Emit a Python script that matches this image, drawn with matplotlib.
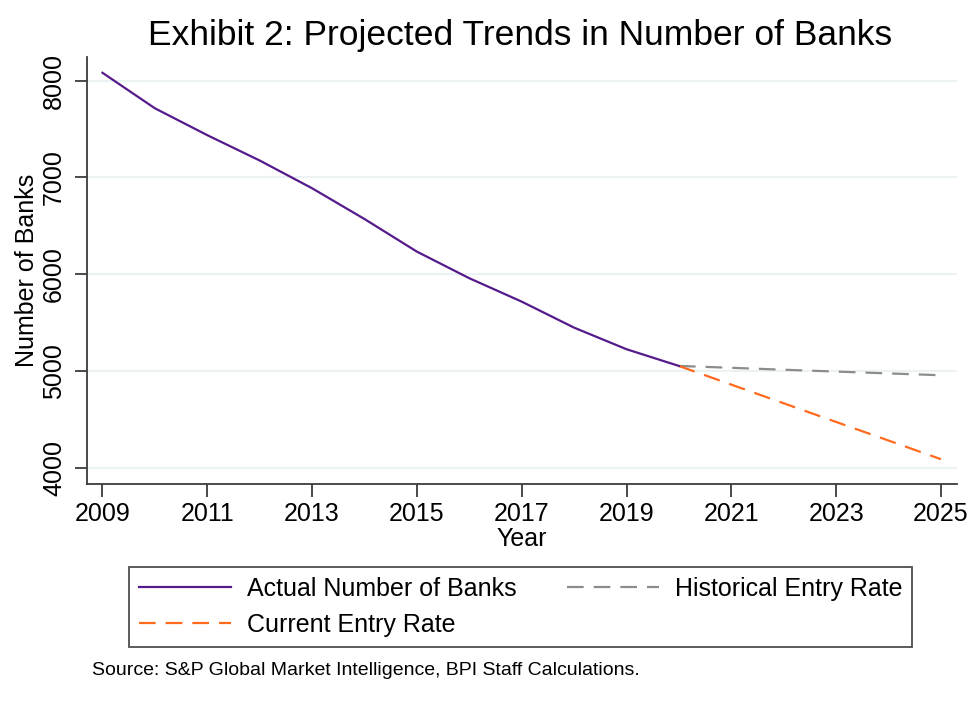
import matplotlib
matplotlib.use("Agg")
import matplotlib.pyplot as plt

plt.rcParams['font.family'] = ['Liberation Sans', 'DejaVu Sans']

years_actual = [2009, 2010, 2011, 2012, 2013, 2014, 2015, 2016, 2017, 2018, 2019, 2020]
banks_actual = [8082, 7715, 7437, 7175, 6888, 6570, 6233, 5958, 5716, 5447, 5224, 5051]

years_proj = [2020, 2021, 2022, 2023, 2024, 2025]
historical_rate = [5051, 5032, 5012, 4993, 4974, 4955]
current_rate = [5051, 4858, 4665, 4472, 4280, 4087]

xticks = [2009, 2011, 2013, 2015, 2017, 2019, 2021, 2023, 2025]
yticks = [4000, 5000, 6000, 7000, 8000]

purple = '#551a8b'
orange = '#ff6a1f'
gray = '#8c8c8c'
axcol = '#3c3c3c'

fig = plt.figure(figsize=(9.79, 7.01), dpi=100)
ax = fig.add_axes([0.0886, 0.3096, 0.8886, 0.6095])

l1, = ax.plot(years_actual, banks_actual, color=purple, lw=1.6,
              label='Actual Number of Banks', zorder=3)
l2, = ax.plot(years_proj, historical_rate, color=gray, lw=1.6,
              dashes=(7.5, 4.5), label='Historical Entry Rate', zorder=2)
l3, = ax.plot(years_proj, current_rate, color=orange, lw=1.6,
              dashes=(7.5, 4.5), label='Current Entry Rate', zorder=2)

ax.set_xlim(2008.70, 2025.30)
ax.set_ylim(3831, 8248)
ax.set_xticks(xticks)
ax.set_yticks(yticks)
ax.set_yticklabels([str(v) for v in yticks], rotation=90, va='center')
ax.grid(axis='y', color='#eaf2f3', lw=1.5, zorder=0)
ax.set_axisbelow(True)

for s in ['top', 'right']:
    ax.spines[s].set_visible(False)
for s in ['left', 'bottom']:
    ax.spines[s].set_color(axcol)
    ax.spines[s].set_linewidth(1.3)
ax.tick_params(axis='both', colors=axcol, labelcolor='black', length=9,
               width=1.3, labelsize=18)
ax.tick_params(axis='x', pad=4)
ax.tick_params(axis='y', pad=6)

ax.set_xlabel('Year', fontsize=18, labelpad=1)
ax.set_ylabel('Number of Banks', fontsize=18, labelpad=2)

fig.text(0.531, 0.949, 'Exhibit 2: Projected Trends in Number of Banks',
         ha='center', va='center', fontsize=25.5)

leg = fig.legend(handles=[l1, l3, l2], ncol=2, loc='center',
                 bbox_to_anchor=(0.5317, 0.1348), fontsize=18,
                 handlelength=3.7, columnspacing=2.0, handletextpad=0.62,
                 labelspacing=0.48, borderpad=0.4, fancybox=False,
                 frameon=True)
leg.get_frame().set_edgecolor('#222222')
leg.get_frame().set_linewidth(1.3)

fig.text(0.094, 0.043, 'Source: S&P Global Market Intelligence, BPI Staff Calculations.',
         ha='left', va='center', fontsize=14)

fig.savefig('out.png', dpi=100, facecolor='white')
